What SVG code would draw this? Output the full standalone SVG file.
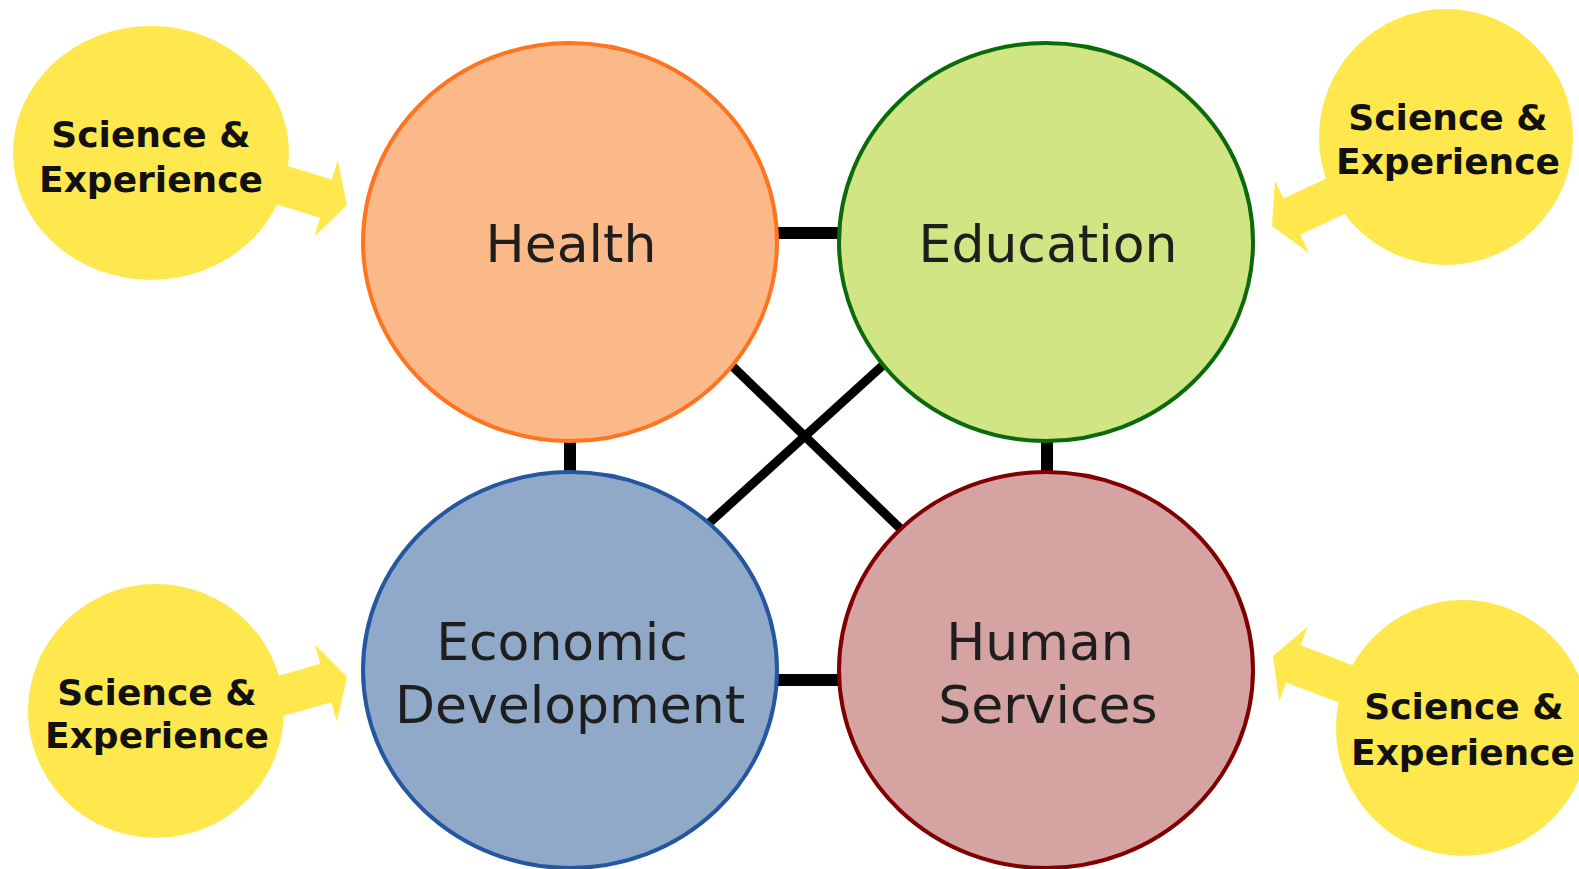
<svg xmlns="http://www.w3.org/2000/svg" width="1579" height="869" viewBox="0 0 1579 869">
<style>
.bg{fill:#ffffff}
.conn{stroke:#000000;stroke-linecap:butt;fill:none}
.thick{stroke-width:12}
.diag{stroke-width:9}
.node{stroke-width:4}
.lbl{font-family:"DejaVu Sans","Verdana",sans-serif;font-size:52px;fill:#1e1e1e;text-anchor:middle}
.sci{fill:#FFE84D}
.sl{font-family:"DejaVu Sans","Verdana",sans-serif;font-weight:bold;font-size:36px;fill:#111111;text-anchor:middle}
</style>
<defs>
<polygon id="arrow" points="0,0 -22,-40 -22,-20 -100,-20 -100,20 -22,20 -22,40"/>
</defs>
<rect class="bg" x="0" y="0" width="1579" height="869"/>
<g id="connectors">
<line class="conn thick" x1="760" y1="233" x2="860" y2="233"/>
<line class="conn thick" x1="760" y1="680" x2="860" y2="680"/>
<line class="conn thick" x1="570" y1="420" x2="570" y2="490"/>
<line class="conn thick" x1="1047" y1="420" x2="1047" y2="490"/>
<line class="conn diag" x1="725" y1="359" x2="910" y2="538"/>
<line class="conn diag" x1="707" y1="525" x2="892" y2="357"/>
</g>
<g id="health">
<ellipse class="node" cx="570" cy="242" rx="207" ry="199" fill="#FBB98A" stroke="#FF7420"/>
<text class="lbl" x="571" y="262">Health</text>
</g>
<g id="education">
<ellipse class="node" cx="1046" cy="242" rx="207" ry="199" fill="#D1E584" stroke="#0B6B0B"/>
<text class="lbl" x="1048" y="262">Education</text>
</g>
<g id="economic">
<ellipse class="node" cx="570" cy="670" rx="207" ry="198" fill="#91A9C9" stroke="#2457A0"/>
<text class="lbl" x="562" y="660">Economic</text>
<text class="lbl" x="570" y="723">Development</text>
</g>
<g id="human">
<ellipse class="node" cx="1046" cy="670" rx="207" ry="198" fill="#D4A3A2" stroke="#800000"/>
<text class="lbl" x="1040" y="660">Human</text>
<text class="lbl" x="1048" y="723">Services</text>
</g>
<g id="sci-top-left">
<ellipse class="sci" cx="151" cy="153" rx="138" ry="127"/>
<use href="#arrow" class="sci" transform="translate(347,205) rotate(17)"/>
<text class="sl" x="151" y="147">Science &amp;</text>
<text class="sl" x="151" y="192">Experience</text>
</g>
<g id="sci-top-right">
<ellipse class="sci" cx="1446" cy="137" rx="127" ry="128"/>
<use href="#arrow" class="sci" transform="translate(1272,226) rotate(155)"/>
<text class="sl" x="1448" y="130">Science &amp;</text>
<text class="sl" x="1448" y="174">Experience</text>
</g>
<g id="sci-bottom-left">
<ellipse class="sci" cx="156" cy="711" rx="128" ry="127"/>
<use href="#arrow" class="sci" transform="translate(347,677) rotate(-16)"/>
<text class="sl" x="157" y="705">Science &amp;</text>
<text class="sl" x="157" y="748">Experience</text>
</g>
<g id="sci-bottom-right">
<ellipse class="sci" cx="1463" cy="728" rx="127" ry="128"/>
<use href="#arrow" class="sci" transform="translate(1273,656) rotate(201)"/>
<text class="sl" x="1464" y="719">Science &amp;</text>
<text class="sl" x="1463" y="765">Experience</text>
</g>
</svg>
